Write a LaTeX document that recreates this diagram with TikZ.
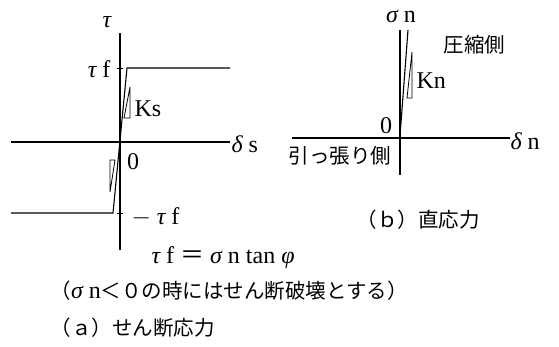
\documentclass[tikz,border=0pt]{standalone}
\usepackage{fontspec}
\setmainfont{Liberation Serif}
\newfontfamily\jp{Noto Sans CJK JP}
\newcommand\gk[1]{{\rmfamily\itshape #1}}
\usetikzlibrary{positioning}

\begin{document}
\begin{tikzpicture}[x=1pt,y=-1pt,line width=1.1pt,
  lbl/.style={inner sep=0pt,font=\fontsize{24}{28}\selectfont},
  jlbl/.style={inner sep=0pt,font=\fontsize{20.5}{24}\selectfont\jp},
  slope/.style={line width=0.8pt}]
\path[use as bounding box] (0,0) rectangle (559,346);
% (a) shear stress
\coordinate (aTop) at (120,33);
\coordinate (aBot) at (120,250);
\coordinate (aL) at (11,142);
\coordinate (aR) at (230,142);
\coordinate (aTf) at (127,68);
\coordinate (aTfR) at (230,68);
\coordinate (aMtf) at (113,213);
\coordinate (aMtfL) at (11,213);
\draw (aBot) -- (aTop);
\draw (aL) -- (aR);
\draw (aMtfL) -- (aMtf) -- (aTf) -- (aTfR);
\draw[slope] (117,68) -- (123,68);
\draw[slope] (117,213) -- (123,213);
\draw[slope] (124,118) -- (130,87) -- (130,118) -- cycle;
\draw[slope] (110,192) -- (115,160) -- (110,160) -- cycle;
\node[lbl] (tau) at (107,22) {\gk{τ}};
\node[lbl,anchor=east] (tauf) at (111,69) {\gk{τ} f};
\node[lbl,anchor=west] (ks) at (134,109) {Ks};
\node[lbl,anchor=west] (ds) at (231,144) {\gk{δ} s};
\node[lbl] (zeroa) at (133,162) {0};
\node[lbl,anchor=west] (mtauf) at (131,217) {$-$ \gk{τ} f};
\node[lbl,anchor=west] (formula) at (151,258) {\gk{τ} f {\jp ＝} \gk{σ} n tan \gk{φ}};
\node[jlbl,anchor=west] (cond) at (50,291) {（{\fontsize{24}{28}\selectfont\rmfamily\gk{σ} n}＜０の時にはせん断破壊とする）};
\node[jlbl,anchor=west] (capa) at (50,328) {（ａ）せん断応力};
% (b) normal stress
\coordinate (bTop) at (400,30);
\coordinate (bBot) at (400,175);
\coordinate (bL) at (292,138);
\coordinate (bR) at (510,138);
\coordinate (bO) at (400,136);
\coordinate (bK) at (408,30);
\draw (bBot) -- (bTop);
\draw (bL) -- (bR);
\draw (bO) -- (bK);
\draw[slope] (407,98) -- (412,52) -- (412,98) -- cycle;
\node[lbl] (sn) at (401,16) {\gk{σ} n};
\node[jlbl,anchor=west] (comp) at (443,45) {圧縮側};
\node[lbl,anchor=west] (kn) at (416,81) {Kn};
\node[lbl] (zerob) at (386,126) {0};
\node[lbl,anchor=west] (dn) at (510,141) {\gk{δ} n};
\node[jlbl] (tens) at (340,156) {引っ張り側};
\node[jlbl,anchor=west] (capb) at (356,220) {（ｂ）直応力};
\end{tikzpicture}
\end{document}
